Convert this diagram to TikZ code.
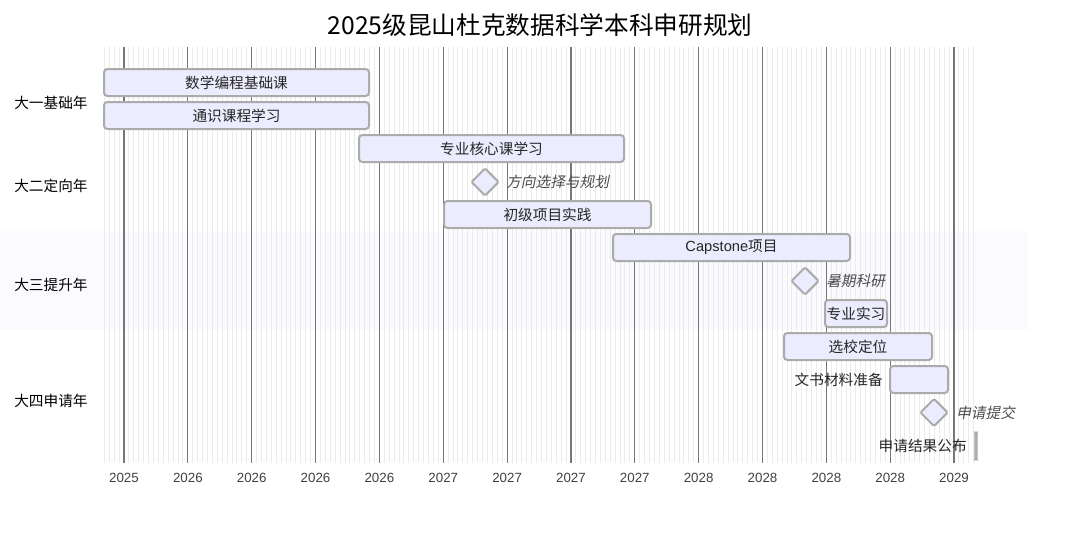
\documentclass[tikz,border=0pt]{standalone}
\usepackage{fontspec}
\setmainfont{Noto Sans CJK SC}
\newfontfamily\latinfont{Liberation Sans}
\newfontfamily\slantfont[FakeSlant=0.2]{Noto Sans CJK SC}
\usetikzlibrary{shapes.geometric}
\definecolor{taskfill}{HTML}{ECECFF}
\definecolor{taskline}{HTML}{ABABAB}
\definecolor{bandfill}{HTML}{FAFAFF}
\definecolor{minorgrid}{HTML}{EBEBEB}
\definecolor{majorgrid}{HTML}{777777}
\tikzstyle{every node}=[font=\fontsize{11}{13}\selectfont]
\tikzstyle{task} = [draw=taskline,fill=taskfill,line width=1.5pt,rounded corners=2.5pt,inner sep=0pt,minimum height=20.25pt,text=black!85]
\tikzstyle{milestone} = [draw=taskline,fill=taskfill,line width=1.5pt,diamond,rounded corners=1pt,inner sep=0pt,minimum width=21pt,minimum height=21pt]
\tikzstyle{mslabel} = [anchor=west,inner sep=0pt,text=black!70,font=\fontsize{11}{13}\slantfont]
\tikzstyle{outlabel} = [anchor=east,inner sep=0pt,text=black!85]
\tikzstyle{sectionlabel} = [anchor=west,inner sep=0pt,text=black]
\tikzstyle{ticklabel} = [text=black!75,font=\fontsize{10}{12}\latinfont]

\begin{document}
\begin{tikzpicture}[x=0.75pt,y=-0.75pt]
\useasboundingbox (0,0) rectangle (1080,536);

% section band
\fill[bandfill] (0,231) rectangle (1028,330);

% grid
\foreach \k in {0,...,177}
{\draw[minorgrid,line width=0.75pt] ({104.35+4.9115*\k},47) -- ({104.35+4.9115*\k},463);}
\foreach \i/\yr in {0/2025,1/2026,2/2026,3/2026,4/2026,5/2027,6/2027,7/2027,8/2027,9/2028,10/2028,11/2028,12/2028,13/2029}
{\draw[majorgrid,line width=0.9pt] ({124+63.85*\i},47) -- ({124+63.85*\i},463);
\node[ticklabel] (tick\i) at ({124+63.85*\i},478) {\yr};}

% title
\node[font=\fontsize{18.5}{22}\selectfont] (title) at (540,25) {2025级昆山杜克数据科学本科申研规划};

% sections
\node[sectionlabel] (sec1) at (14,103) {大一基础年};
\node[sectionlabel] (sec2) at (14,186) {大二定向年};
\node[sectionlabel] (sec3) at (14,285) {大三提升年};
\node[sectionlabel] (sec4) at (14,401) {大四申请年};

% tasks
\node[task,minimum width=198.75pt] (math) at (236.5,82.5) {数学编程基础课};
\node[task,minimum width=198.75pt] (general) at (236.5,115.5) {通识课程学习};
\node[task,minimum width=198.75pt] (core) at (491.5,148.5) {专业核心课学习};
\node[milestone] (choose) at (485,182) {};
\node[mslabel] (choosetext) at (506,182) {方向选择与规划};
\node[task,minimum width=155.25pt] (project) at (547.5,214.5) {初级项目实践};
\node[task,minimum width=177.75pt] (capstone) at (731.5,247.5) {{\latinfont Capstone}项目};
\node[milestone] (summer) at (805,281) {};
\node[mslabel] (summertext) at (826,281) {暑期科研};
\node[task,minimum width=46.5pt] (intern) at (856,313.5) {专业实习};
\node[task,minimum width=111pt] (school) at (858,346.5) {选校定位};
\node[task,minimum width=43.5pt] (essay) at (919,379.5) {};
\node[outlabel] (essaytext) at (883,379.5) {文书材料准备};
\node[milestone] (submit) at (934,412.5) {};
\node[mslabel] (submittext) at (956,412.5) {申请提交};
\node[task,minimum width=1pt,minimum height=20pt,rounded corners=0.75pt] (result) at (976,446) {};
\node[outlabel] (resulttext) at (967,446) {申请结果公布};
\end{tikzpicture}
\end{document}
